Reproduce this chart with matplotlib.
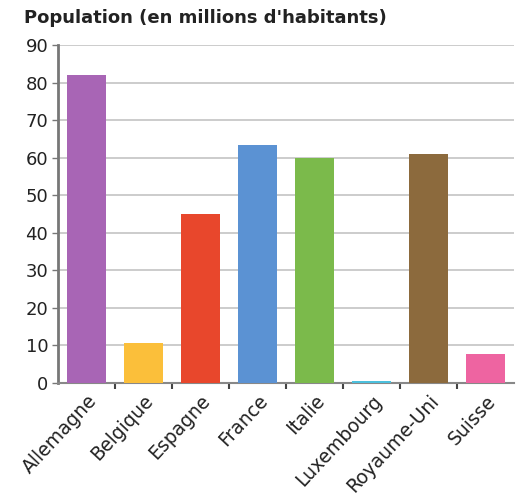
import matplotlib
matplotlib.use("Agg")
import matplotlib.pyplot as plt

countries = ["Allemagne", "Belgique", "Espagne", "France", "Italie",
             "Luxembourg", "Royaume-Uni", "Suisse"]
population = [82.0, 10.6, 45.0, 63.4, 59.8, 0.6, 60.9, 7.6]
colors = ["#A865B5", "#FBBF3A", "#E8472C", "#5B92D3", "#7BBA4B",
          "#4CC0DD", "#8C6A3D", "#EE64A1"]
yticks = [0, 10, 20, 30, 40, 50, 60, 70, 80, 90]
title = "Population (en millions d'habitants)"

W, H = 521, 504
fig = plt.figure(figsize=(W / 100, H / 100), dpi=100)
ax = fig.add_axes([58 / W, 1 - 383 / H, (514 - 58) / W, (383 - 45) / H])

x = list(range(len(countries)))
ax.bar(x, population, width=0.7, color=colors, zorder=3)

ax.set_xlim(-0.5, len(countries) - 0.5)
ax.set_ylim(0, 90)
ax.set_yticks(yticks)
ax.set_yticklabels([str(v) for v in yticks], fontsize=13, color="#222222")
ax.yaxis.grid(True, color="#c4c4c4", linewidth=1.2, zorder=0)
ax.tick_params(axis="y", length=4, width=1, color="#777777", pad=3)

ax.set_xticks(x)
ax.set_xticklabels(countries, rotation=47, ha="right", rotation_mode="anchor",
                   fontsize=13.5, color="#222222")
ax.set_xticks([i + 0.5 for i in x[:-1]], minor=True)
ax.tick_params(axis="x", which="major", length=0, pad=6)
ax.tick_params(axis="x", which="minor", length=4, width=1.5, color="#444444")

for s in ["top", "right"]:
    ax.spines[s].set_visible(False)
ax.spines["left"].set_color("#777777")
ax.spines["left"].set_linewidth(2)
ax.spines["bottom"].set_color("#888888")
ax.spines["bottom"].set_linewidth(1.5)

fig.text(24 / W, 1 - 18 / H, title, fontsize=13, fontweight="bold",
         color="#222222", va="center", ha="left")

fig.savefig("out.png", dpi=100, facecolor="white")
